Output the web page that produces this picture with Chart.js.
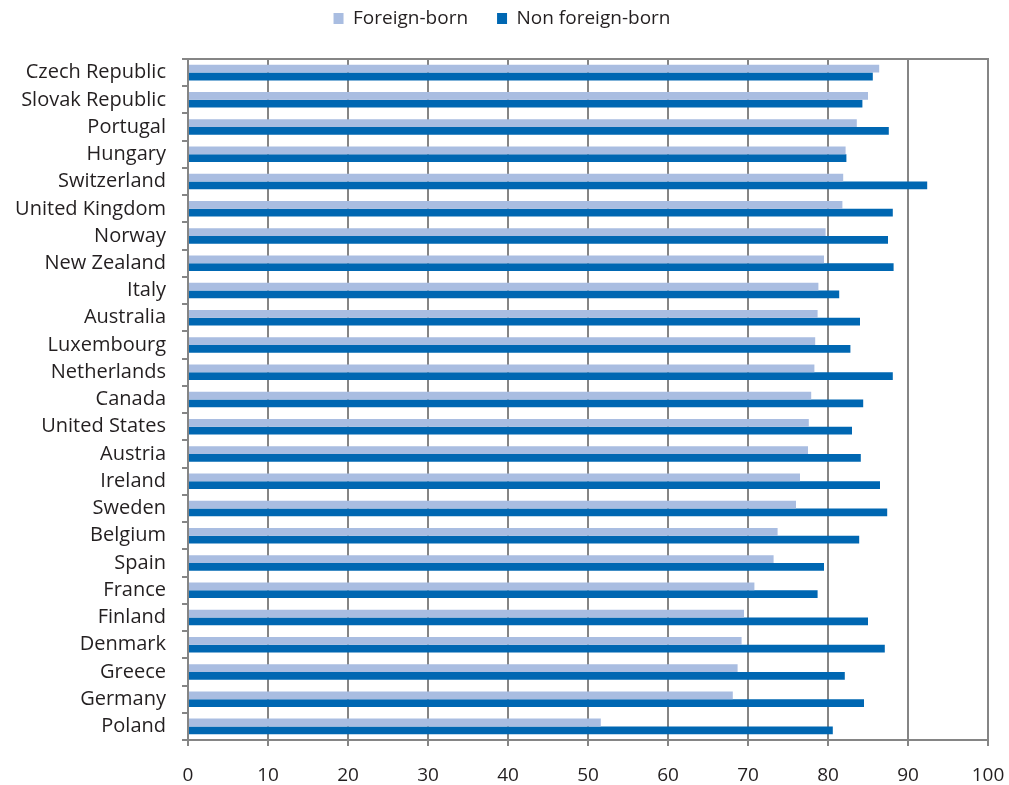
<!DOCTYPE html>
<html>
<head>
<meta charset="utf-8">
<script src="https://cdn.jsdelivr.net/npm/chart.js@4/dist/chart.umd.min.js"></script>
<style>
  html, body { margin: 0; padding: 0; background: #ffffff; }
  #wrap { width: 1009px; height: 785px; }
</style>
</head>
<body>
<div id="wrap"><canvas id="chart" width="1009" height="785"></canvas></div>
<script>
// Countries, top to bottom
const countries = [
  "Czech Republic", "Slovak Republic", "Portugal", "Hungary", "Switzerland",
  "United Kingdom", "Norway", "New Zealand", "Italy", "Australia",
  "Luxembourg", "Netherlands", "Canada", "United States", "Austria",
  "Ireland", "Sweden", "Belgium", "Spain", "France",
  "Finland", "Denmark", "Greece", "Germany", "Poland"
];

// Values per series (%)
const foreignBorn = [
  86.4, 85.0, 83.6, 82.2, 81.9,
  81.8, 79.7, 79.5, 78.8, 78.7,
  78.4, 78.3, 77.9, 77.6, 77.5,
  76.5, 76.0, 73.7, 73.2, 70.8,
  69.5, 69.2, 68.7, 68.1, 51.6
];
const nonForeignBorn = [
  85.6, 84.3, 87.6, 82.3, 92.4,
  88.1, 87.5, 88.2, 81.4, 84.0,
  82.8, 88.1, 84.4, 83.0, 84.1,
  86.5, 87.4, 83.9, 79.5, 78.7,
  85.0, 87.1, 82.1, 84.5, 80.6
];

// Value axis ticks
const xTicks = [0, 10, 20, 30, 40, 50, 60, 70, 80, 90, 100];

const gridGray = "#858585";
const textColor = "#231F20";
const fontFamily = "'Open Sans', 'Noto Sans', sans-serif";

new Chart(document.getElementById("chart"), {
  type: "bar",
  data: {
    labels: countries,
    datasets: [
      {
        label: "Foreign-born",
        data: foreignBorn,
        backgroundColor: "#A9BDE1",
        borderWidth: 0,
        categoryPercentage: 0.57,
        barPercentage: 1.0
      },
      {
        label: "Non foreign-born",
        data: nonForeignBorn,
        backgroundColor: "#0067B2",
        borderWidth: 0,
        categoryPercentage: 0.57,
        barPercentage: 1.0
      }
    ]
  },
  options: {
    indexAxis: "y",
    responsive: false,
    animation: false,
    layout: { padding: { left: 16, right: 21, top: -20, bottom: 0 } },
    plugins: {
      legend: {
        position: "top",
        align: "center",
        labels: {
          boxWidth: 10,
          boxHeight: 11,
          padding: 29,
          color: textColor,
          font: { family: fontFamily, size: 19 }
        }
      },
      tooltip: { enabled: false }
    },
    scales: {
      x: {
        type: "linear",
        position: "bottom",
        min: 0,
        max: 100,
        afterBuildTicks: (scale) => { scale.ticks = xTicks.map(v => ({ value: v })); },
        afterFit: (scale) => {
          scale.height = 45;
          // end labels may hang past the plot edges
          scale.paddingLeft = 0;
          scale.paddingRight = 0;
        },
        grid: {
          color: gridGray,
          lineWidth: 2,
          drawTicks: true,
          tickLength: 6,
          tickColor: gridGray
        },
        border: { display: true, color: gridGray, width: 2 },
        ticks: {
          color: textColor,
          padding: 18,
          font: { family: fontFamily, size: 19 }
        }
      },
      xTop: {
        type: "linear",
        position: "top",
        axis: "x",
        min: 0,
        max: 100,
        afterFit: (scale) => {
          scale.height = 21;
          scale.paddingLeft = 0;
          scale.paddingRight = 0;
        },
        grid: { drawOnChartArea: false, drawTicks: false },
        border: { display: true, color: gridGray, width: 2 },
        ticks: { display: false }
      },
      y: {
        type: "category",
        position: "left",
        afterFit: (scale) => { scale.width = 172; },
        grid: {
          offset: true,
          drawOnChartArea: false,
          drawTicks: true,
          tickLength: 6,
          tickColor: gridGray,
          lineWidth: 2
        },
        border: { display: true, color: gridGray, width: 2 },
        ticks: {
          autoSkip: false,
          color: textColor,
          padding: 16,
          font: { family: fontFamily, size: 20 }
        }
      }
    }
  }
});
</script>
</body>
</html>
